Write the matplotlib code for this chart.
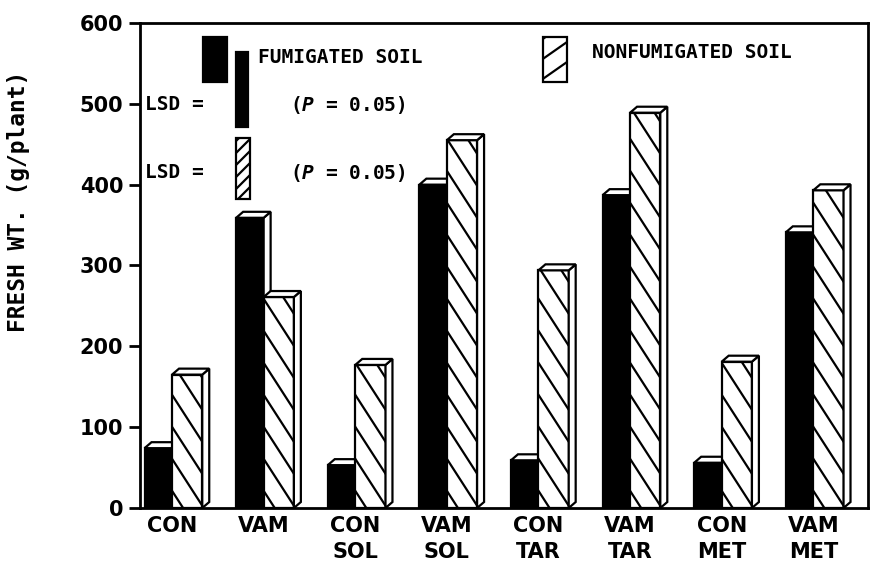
import numpy as np
import matplotlib.pyplot as plt
from matplotlib.patches import Polygon, Rectangle
from matplotlib.lines import Line2D

plt.rcParams["mathtext.fontset"] = "custom"
plt.rcParams["mathtext.rm"] = "DejaVu Sans Mono:bold"
plt.rcParams["mathtext.it"] = "DejaVu Sans Mono:italic:bold"

CATEGORIES = ["CON", "VAM", "CON\nSOL", "VAM\nSOL", "CON\nTAR", "VAM\nTAR", "CON\nMET", "VAM\nMET"]
FUMIGATED = [74, 359, 53, 400, 59, 387, 56, 341]
NONFUMIGATED = [165, 261, 177, 455, 294, 489, 181, 393]
LSD_FUMIGATED = 93
LSD_NONFUMIGATED = 76
Y_TICKS = [0, 100, 200, 300, 400, 500, 600]

W_BLACK = 0.30
W_HATCH = 0.33
DX = 0.076  # oblique depth in x (data units)
DY = 7.4    # oblique depth in y (data units)
LW = 1.6

MONO = "DejaVu Sans Mono"


def hatch_lines(ax, rect, slope, spacing, lw=1.6):
    # clipped diagonal lines over a rectangle, geometry worked out in pixels
    x0, y0 = rect.get_x(), rect.get_y()
    x1, y1 = x0 + rect.get_width(), y0 + rect.get_height()
    (X0, Y0), (X1, Y1) = ax.transData.transform([(x0, y0), (x1, y1)])
    inv = ax.transData.inverted()
    W = X1 - X0
    lo = Y0 - abs(slope) * W - spacing
    hi = Y1 + abs(slope) * W + spacing
    for c in np.arange(lo, hi, spacing):
        d = inv.transform([(X0, c), (X1, c + slope * W)])
        ln = Line2D(d[:, 0], d[:, 1], color="black", lw=lw, zorder=rect.get_zorder() + 0.1)
        ax.add_line(ln)
        ln.set_clip_path(rect)


def box3d(ax, x0, width, h, face, z, slope=None, spacing=None):
    x1 = x0 + width
    front = Rectangle((x0, 0), width, h, facecolor=face, edgecolor="black", lw=LW, zorder=z)
    ax.add_patch(front)
    top = Polygon([(x0, h), (x0 + DX, h + DY), (x1 + DX, h + DY), (x1, h)],
                  closed=True, facecolor="white", edgecolor="black", lw=LW, zorder=z)
    side = Polygon([(x1, 0), (x1 + DX, DY), (x1 + DX, h + DY), (x1, h)],
                   closed=True, facecolor="white", edgecolor="black", lw=LW, zorder=z)
    ax.add_patch(side)
    ax.add_patch(top)
    if slope is not None:
        hatch_lines(ax, front, slope, spacing)
    return front


fig = plt.figure(figsize=(8.86, 5.63), dpi=100)
ax = fig.add_axes([0.158, 0.0977, 0.822, 0.8615])
ax.set_xlim(-0.35, 7.6)
ax.set_ylim(0, 600)

x = np.arange(len(CATEGORIES))
for i in x:
    z = 2 + i
    box3d(ax, i - W_BLACK, W_BLACK, FUMIGATED[i], "black", z)
    box3d(ax, i, W_HATCH, NONFUMIGATED[i], "white", z + 0.5, slope=-1.55, spacing=32)

# legend keys
ax.add_patch(Rectangle((0.338, 527), 0.262, 56, facecolor="black", edgecolor="black", lw=LW, zorder=20))
ax.text(0.94, 557, "FUMIGATED SOIL", fontsize=14, family=MONO, fontweight="bold",
        va="center", ha="left", zorder=20)
leg_h = Rectangle((4.05, 527), 0.262, 56, facecolor="white", edgecolor="black", lw=LW, zorder=20)
ax.add_patch(leg_h)
hatch_lines(ax, leg_h, 0.7, 20)
ax.text(4.585, 563, "NONFUMIGATED SOIL", fontsize=14, family=MONO, fontweight="bold",
        va="center", ha="left", zorder=20)

# LSD bars
ax.add_patch(Rectangle((0.699, 471), 0.131, LSD_FUMIGATED, facecolor="black", edgecolor="black",
                       lw=LW, zorder=20))
lsd_h = Rectangle((0.699, 382), 0.15, LSD_NONFUMIGATED, facecolor="white", edgecolor="black",
                  lw=LW, zorder=20)
ax.add_patch(lsd_h)
hatch_lines(ax, lsd_h, 1.0, 12)
for yy in (498.6, 414.5):
    ax.text(-0.295, yy, "LSD =", fontsize=14, family=MONO, fontweight="bold",
            va="center", ha="left", zorder=20)
    ax.text(1.29, yy, "($P$ = 0.05)", fontsize=14, family=MONO, fontweight="bold",
            va="center", ha="left", zorder=20)

# axes styling
for sp in ax.spines.values():
    sp.set_linewidth(2)
ax.set_xticks(x)
ax.set_xticklabels(CATEGORIES, fontsize=15, fontweight="bold", linespacing=1.35)
ax.tick_params(axis="x", length=0, pad=6)
ax.set_yticks(Y_TICKS)
ax.set_yticklabels([str(v) for v in Y_TICKS], fontsize=15, fontweight="bold")
ax.tick_params(axis="y", length=8, width=2, direction="out", pad=4)
ax.set_ylabel("FRESH WT. (g/plant)", fontsize=16.5, family=MONO, fontweight="bold")
ax.yaxis.set_label_coords(-0.151, 0.633)

fig.savefig("out.png", dpi=100)
